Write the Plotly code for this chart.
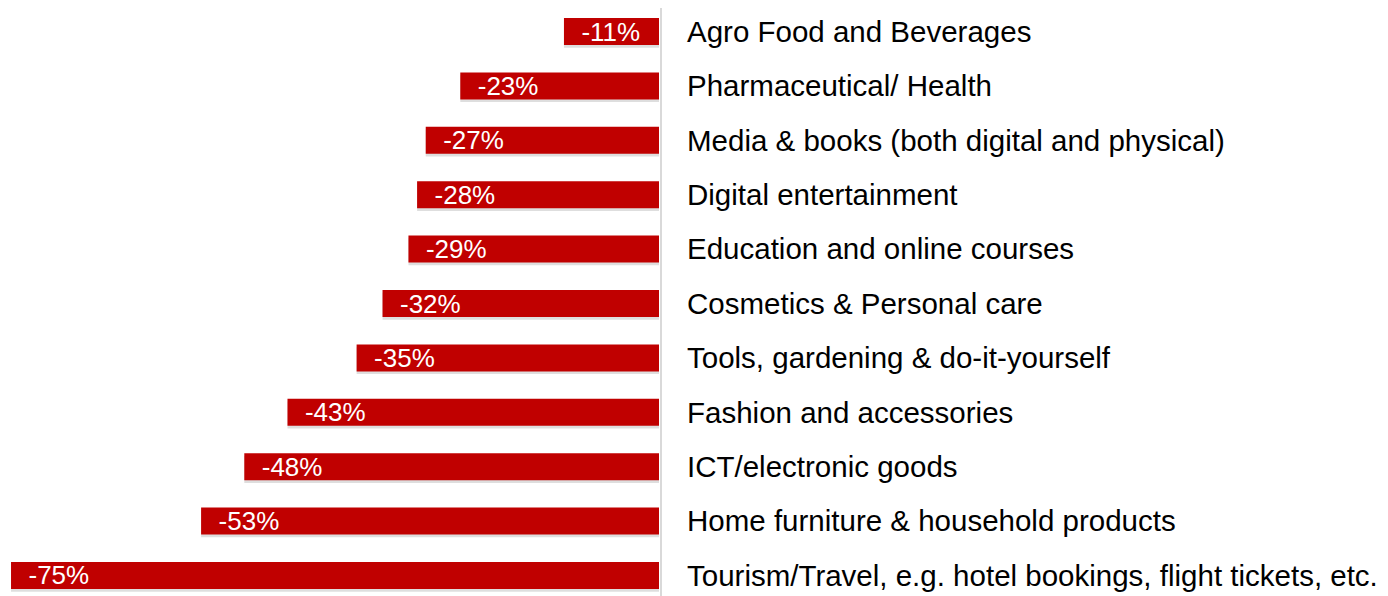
import plotly.graph_objects as go

# categories top to bottom, with the change in share
categories = [
    "Agro Food and Beverages",
    "Pharmaceutical/ Health",
    "Media & books (both digital and physical)",
    "Digital entertainment",
    "Education and online courses",
    "Cosmetics & Personal care",
    "Tools, gardening & do-it-yourself",
    "Fashion and accessories",
    "ICT/electronic goods",
    "Home furniture & household products",
    "Tourism/Travel, e.g. hotel bookings, flight tickets, etc.",
]
values = [-11, -23, -27, -28, -29, -32, -35, -43, -48, -53, -75]
labels = ["\u00a0\u00a0" + f"{v}%" for v in values]

BAR_W = 0.496

fig = go.Figure()

# faint drop shadow under each bar
fig.add_trace(go.Bar(
    x=values,
    y=categories,
    orientation="h",
    width=BAR_W,
    offset=-BAR_W / 2 + 0.05,
    marker=dict(color="rgba(0,0,0,0.13)", line=dict(width=0)),
    hoverinfo="skip",
))

fig.add_trace(go.Bar(
    x=values,
    y=categories,
    orientation="h",
    width=BAR_W,
    offset=-BAR_W / 2,
    marker=dict(color="#C00000", line=dict(width=0)),
    text=labels,
    textposition="inside",
    insidetextanchor="end",
    constraintext="none",
    textfont=dict(family="Liberation Sans, Arial", size=26, color="white"),
    hoverinfo="skip",
))

# thin grey divider just right of the bars
fig.add_shape(
    type="line",
    xref="paper", yref="y",
    xsizemode="pixel", xanchor=1, x0=2, x1=2,
    y0=-0.6, y1=10.6,
    line=dict(color="#d9d9d9", width=2),
)

# page body adds 8px offset, so the plot is laid out 8px up/left
fig.update_layout(
    width=1388,
    height=596,
    margin=dict(l=0, r=737, t=0, b=0),
    paper_bgcolor="white",
    plot_bgcolor="white",
    showlegend=False,
    barmode="overlay",
    font=dict(family="Liberation Sans, Arial", color="black"),
)
fig.update_xaxes(
    range=[-75.35, 0],
    showgrid=False, zeroline=False, showticklabels=False, showline=False,
)
fig.update_yaxes(
    type="category",
    categoryorder="array",
    categoryarray=categories,
    range=[10.524, -0.432],
    side="right",
    ticklabelstandoff=27,
    showgrid=False, zeroline=False, showline=False, ticks="",
    tickfont=dict(family="Liberation Sans, Arial", size=29.5, color="black"),
)

fig.write_html("out.html")
